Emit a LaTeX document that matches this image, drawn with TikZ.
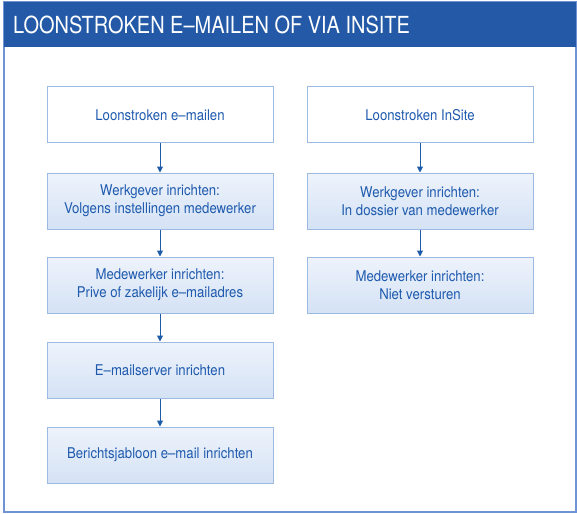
\documentclass[tikz,border=0pt]{standalone}
\usepackage{fontspec}
\setmainfont{TeX Gyre Heros}[FakeStretch=0.85]
\newfontfamily\boxfont{TeX Gyre Heros}[FakeStretch=0.89]
\usetikzlibrary{arrows.meta}
\definecolor{hdrblue}{HTML}{2359A6}
\definecolor{framec}{HTML}{7093D6}
\definecolor{boxline}{HTML}{9DBAE2}
\definecolor{txtblue}{HTML}{1E5AAE}
\definecolor{arrblue}{HTML}{1F5CA8}
\definecolor{gtop}{HTML}{EEF3FB}
\definecolor{gbot}{HTML}{D4E2F5}
\tikzset{
  plainbox/.style={draw=boxline, line width=1pt, fill=white, minimum width=226pt, minimum height=56pt, align=center, text=txtblue, font=\boxfont\fontsize{14.8}{18}\selectfont, inner sep=0pt},
  gradbox/.style={plainbox, top color=gtop, bottom color=gbot},
  flow/.style={draw=arrblue, line width=1pt, -{Triangle[width=6pt,length=6pt]}}
}
\begin{document}
\begin{tikzpicture}[x=1pt,y=-1pt]
\useasboundingbox (0,0) rectangle (577,513);
\draw[framec, line width=1.2pt, fill=white] (4,2) rectangle (576,512);
\fill[hdrblue] (4,2) rectangle (576,47);
\node[anchor=west, text=white, font=\fontsize{23.5}{26}\selectfont, inner sep=0pt] (title) at (13,24.5) {LOONSTROKEN E–MAILEN OF VIA INSITE};
% left column
\node[plainbox] (l1) at (160,115) {Loonstroken e–mailen};
\node[gradbox] (l2) at (160,201) {Werkgever inrichten:\\Volgens instellingen medewerker};
\node[gradbox] (l3) at (160,285) {Medewerker inrichten:\\Prive of zakelijk e–mailadres};
\node[gradbox] (l4) at (160,370) {E–mailserver inrichten};
\node[gradbox] (l5) at (160,455) {Berichtsjabloon e–mail inrichten};
% right column
\node[plainbox] (r1) at (420,115) {Loonstroken InSite};
\node[gradbox] (r2) at (420,201) {Werkgever inrichten:\\In dossier van medewerker};
\node[gradbox] (r3) at (420,285) {Medewerker inrichten:\\Niet versturen};
\draw[flow] (l1) -- (l2);
\draw[flow] (l2) -- (l3);
\draw[flow] (l3) -- (l4);
\draw[flow] (l4) -- (l5);
\draw[flow] (r1) -- (r2);
\draw[flow] (r2) -- (r3);
\end{tikzpicture}
\end{document}
